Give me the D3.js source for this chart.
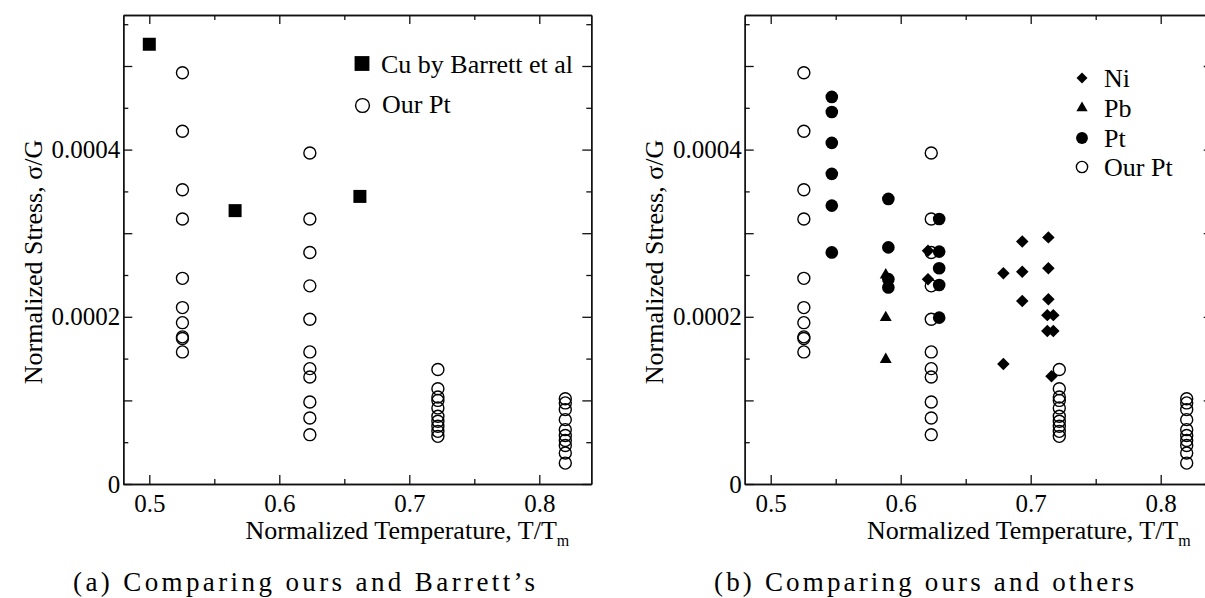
<!DOCTYPE html>
<html>
<head>
<meta charset="utf-8">
<script src="https://cdn.jsdelivr.net/npm/d3@7"></script>
<style>
  body { margin: 0; background: #fff; }
  svg { display: block; }
</style>
</head>
<body>
<svg id="chart" width="1205" height="598"></svg>
<script>
// ---- data (stress values in units of 1e-4) ----
const ourPtT = [0.5255, 0.6235, 0.722, 0.82];
const ourPtS = [
  [4.92, 4.22, 3.52, 3.17, 2.46, 2.11, 1.93, 1.76, 1.74, 1.58],
  [3.96, 3.17, 2.77, 2.37, 1.97, 1.58, 1.38, 1.28, 0.98, 0.79, 0.59],
  [1.37, 1.14, 1.04, 1.00, 0.91, 0.81, 0.75, 0.69, 0.63, 0.57],
  [1.02, 0.97, 0.89, 0.77, 0.65, 0.58, 0.52, 0.46, 0.37, 0.25]
];
const cuT = [0.5, 0.566, 0.662];
const cuS = [5.26, 3.27, 3.44];

const niT = [0.621, 0.621, 0.679, 0.679, 0.6935, 0.6935, 0.6935, 0.7136, 0.7136, 0.7136, 0.7128, 0.7174, 0.7128, 0.7174, 0.716];
const niS = [2.79, 2.45, 2.52, 1.435, 2.90, 2.54, 2.19, 2.95, 2.58, 2.21, 2.02, 2.02, 1.83, 1.83, 1.29];
const pbT = [0.5885, 0.5885, 0.5885];
const pbS = [2.50, 1.99, 1.49];
const ptT = [0.547, 0.547, 0.547, 0.547, 0.547, 0.547, 0.5905, 0.5905, 0.5905, 0.5905, 0.6296, 0.6296, 0.6296, 0.6296, 0.6296];
const ptS = [4.63, 4.45, 4.08, 3.71, 3.33, 2.77, 3.41, 2.83, 2.45, 2.35, 3.17, 2.78, 2.58, 2.38, 1.99];

const xMajor = [0.5, 0.6, 0.7, 0.8];
const xMinor = [0.55, 0.65, 0.75];
const yMajor = [0, 0.0001, 0.0002, 0.0003, 0.0004, 0.0005];
const yMinor = [0.00005, 0.00015, 0.00025, 0.00035, 0.00045, 0.00055];
const yLabeled = [0, 0.0002, 0.0004];

const FONT = "'Liberation Serif', 'Times New Roman', serif";
const svg = d3.select("#chart");

const ourPt = ourPtT.flatMap((t, i) => ourPtS[i].map(s => ({t, s: s * 1e-4})));
const zip = (ts, ss) => ts.map((t, i) => ({t, s: ss[i] * 1e-4}));

const y = d3.scaleLinear().domain([0, 0.000561]).range([484, 15]);

function panel(x0, x1, yTitleX) {
  const x = d3.scaleLinear().domain([0.48, 0.84]).range([x0, x1]);
  const g = svg.append("g");

  const styleAxis = sel => {
    sel.attr("font-family", FONT).attr("font-size", 25);
    sel.selectAll("path.domain").attr("stroke", "#111").attr("stroke-width", 1.4);
    sel.selectAll(".tick line").attr("stroke", "#111").attr("stroke-width", 1.3);
    sel.selectAll("text").attr("fill", "#000");
  };

  // bottom
  g.append("g").attr("transform", `translate(0,${y(0)})`)
    .call(d3.axisBottom(x).tickValues(xMajor).tickSize(-9).tickSizeOuter(0).tickPadding(10).tickFormat(d3.format(".1f")))
    .call(styleAxis);
  g.append("g").attr("transform", `translate(0,${y(0)})`)
    .call(d3.axisBottom(x).tickValues(xMinor).tickSize(-5).tickSizeOuter(0).tickFormat(""))
    .call(styleAxis);
  // top
  g.append("g").attr("transform", `translate(0,${y.range()[1]})`)
    .call(d3.axisTop(x).tickValues(xMajor).tickSize(-9).tickSizeOuter(0).tickFormat(""))
    .call(styleAxis);
  g.append("g").attr("transform", `translate(0,${y.range()[1]})`)
    .call(d3.axisTop(x).tickValues(xMinor).tickSize(-5).tickSizeOuter(0).tickFormat(""))
    .call(styleAxis);
  // left
  g.append("g").attr("transform", `translate(${x0},0)`)
    .call(d3.axisLeft(y).tickValues(yMajor).tickSize(-9).tickSizeOuter(0).tickPadding(3)
      .tickFormat(d => yLabeled.includes(d) ? (d === 0 ? "0" : d3.format(".4f")(d)) : ""))
    .call(styleAxis);
  g.append("g").attr("transform", `translate(${x0},0)`)
    .call(d3.axisLeft(y).tickValues(yMinor).tickSize(-5).tickSizeOuter(0).tickFormat(""))
    .call(styleAxis);
  // right
  g.append("g").attr("transform", `translate(${x1},0)`)
    .call(d3.axisRight(y).tickValues(yMajor).tickSize(-9).tickSizeOuter(0).tickFormat(""))
    .call(styleAxis);
  g.append("g").attr("transform", `translate(${x1},0)`)
    .call(d3.axisRight(y).tickValues(yMinor).tickSize(-5).tickSizeOuter(0).tickFormat(""))
    .call(styleAxis);

  // axis titles
  const xt = g.append("text")
    .attr("x", x(0.8) + 30).attr("y", 539)
    .attr("text-anchor", "end")
    .attr("font-family", FONT).attr("font-size", 26);
  xt.append("tspan").text("Normalized Temperature, T/T");
  xt.append("tspan").attr("font-size", 16).attr("dy", 7).text("m");

  g.append("text")
    .attr("transform", `translate(${yTitleX},262) rotate(-90)`)
    .attr("text-anchor", "middle")
    .attr("font-family", FONT).attr("font-size", 26)
    .text("Normalized Stress, \u03c3/G");

  return {g, x};
}

function marks(p, data, type, size, filled, rot) {
  const sym = d3.symbol().type(type).size(size);
  p.g.append("g").selectAll("path")
    .data(data)
    .join("path")
    .attr("d", sym)
    .attr("transform", d => `translate(${p.x(d.t)},${y(d.s)})` + (rot ? ` rotate(${rot})` : ""))
    .attr("fill", filled ? "#000" : "none")
    .attr("stroke", "#000")
    .attr("stroke-width", filled ? 0 : 1.4);
}

function legendItem(cx, cy, type, size, filled, rot, label, tx, ty) {
  svg.append("path")
    .attr("d", d3.symbol().type(type).size(size)())
    .attr("transform", `translate(${cx},${cy})` + (rot ? ` rotate(${rot})` : ""))
    .attr("fill", filled ? "#000" : "none")
    .attr("stroke", "#000").attr("stroke-width", filled ? 0 : 1.4);
  svg.append("text").attr("x", tx).attr("y", ty)
    .attr("font-family", FONT).attr("font-size", 26).text(label);
}

// ---- panel (a) ----
const pa = panel(123.3, 591.3, 42);
marks(pa, zip(cuT, cuS), d3.symbolSquare, 169, true);
marks(pa, ourPt, d3.symbolCircle, 113, false);
legendItem(362, 63.5, d3.symbolSquare, 220, true, 0, "Cu by Barrett et al", 381, 73);
legendItem(362.5, 105.5, d3.symbolCircle, 150, false, 0, "Our Pt", 382, 113);

// ---- panel (b) ----
const pb = panel(744.7, 1212.7, 663);
marks(pb, ourPt, d3.symbolCircle, 113, false);
marks(pb, zip(niT, niS), d3.symbolSquare, 78, true, 45);
marks(pb, zip(pbT, pbS), d3.symbolTriangle, 62, true);
marks(pb, zip(ptT, ptS), d3.symbolCircle, 125, true);
legendItem(1082, 78, d3.symbolSquare, 60, true, 45, "Ni", 1104, 87);
legendItem(1082, 108, d3.symbolTriangle, 55, true, 0, "Pb", 1104, 117);
legendItem(1082, 138, d3.symbolCircle, 110, true, 0, "Pt", 1104, 147);
legendItem(1082, 167, d3.symbolCircle, 100, false, 0, "Our Pt", 1104, 176);

// ---- captions ----
svg.append("text").attr("x", 73).attr("y", 591)
  .attr("font-family", FONT).attr("font-size", 27)
  .attr("textLength", 462).attr("lengthAdjust", "spacing")
  .text("(a) Comparing ours and Barrett\u2019s");
svg.append("text").attr("x", 714).attr("y", 591)
  .attr("font-family", FONT).attr("font-size", 27)
  .attr("textLength", 420).attr("lengthAdjust", "spacing")
  .text("(b) Comparing ours and others");
</script>
</body>
</html>
